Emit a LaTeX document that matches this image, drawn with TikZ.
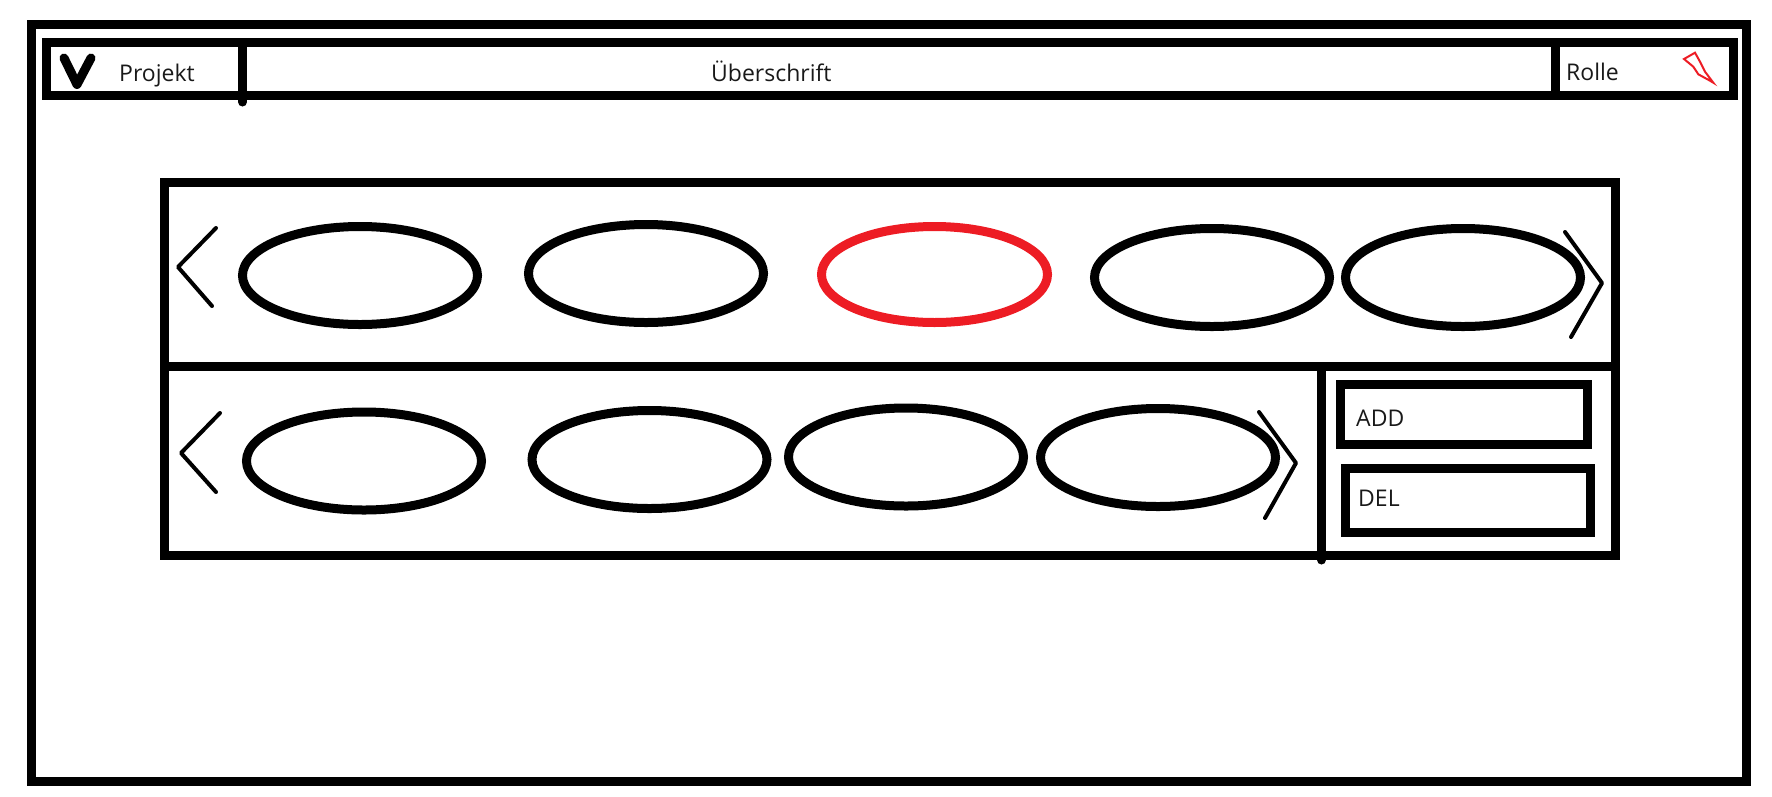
\documentclass[tikz,border=0pt]{standalone}
\usepackage{fontspec}
\setmainfont{Open Sans}
\usetikzlibrary{shapes.geometric}
\tikzset{
	frame/.style={line width=9pt, black},
	oval/.style={draw, ellipse, line width=9pt, inner sep=0pt, minimum width=235pt, minimum height=98pt},
	chevron/.style={line width=4pt, line cap=round, line join=round},
	label/.style={inner sep=0pt, anchor=base west, font=\fontsize{23}{28}\selectfont, text=black!90}
}
\definecolor{penred}{RGB}{237,28,36}
\begin{document}
\begin{tikzpicture}[x=1pt, y=-1pt]
	\useasboundingbox (0,0) rectangle (1772,796);
	% window and header
	\draw[frame] (31.5,24.5) rectangle (1746,781.5);
	\draw[frame] (46.5,42.5) rectangle (1733,95.5);
	\coordinate (h1t) at(242.5,42.5);
	\coordinate (h1b) at(242.5,102);
	\coordinate (h2t) at(1555,42.5);
	\coordinate (h2b) at(1555,95.5);
	\draw[frame, line cap=round] (h1t)--(h1b);
	\draw[frame] (h2t)--(h2b);
	\coordinate (v1) at(64,58);
	\coordinate (v2) at(77,84.5);
	\coordinate (v3) at(91,58);
	\draw[line width=9pt, line cap=round, line join=round] (v1)--(v2)--(v3);
	\node[label] (projekt) at(119,81) {Projekt};
	\node[label] (title) at(711,81) {Überschrift};
	\node[label] (rolle) at(1566,80) {Rolle};
	\coordinate (r1) at(1695,52.7);
	\coordinate (r2) at(1684,59);
	\coordinate (r3) at(1693.3,66.7);
	\coordinate (r4) at(1698.3,74.3);
	\coordinate (r5) at(1710,80.7);
	\coordinate (r6) at(1713.3,82.7);
	\coordinate (r7) at(1705,71.7);
	\coordinate (r8) at(1700,61.7);
	\draw[penred, line width=2pt] (r1)--(r2)--(r3)--(r4)--(r5)--(r6)--(r7)--(r8)--cycle;
	% panel
	\draw[frame] (164.5,182.5) rectangle (1615,555.5);
	\coordinate (ml) at(164.5,366.5);
	\coordinate (mr) at(1615,366.5);
	\coordinate (dt) at(1321.5,366.5);
	\coordinate (db) at(1321.5,560);
	\draw[frame] (ml)--(mr);
	\draw[frame, line cap=round] (dt)--(db);
	% upper row
	\node[oval] (a1) at(360,275.5) {};
	\node[oval] (a2) at(646,273.5) {};
	\node[oval, draw=penred, minimum width=226pt, minimum height=96pt] (a3) at(934.5,274.5) {};
	\node[oval] (a4) at(1212,277.5) {};
	\node[oval] (a5) at(1463,277.5) {};
	\draw[chevron] (216,228)--(178,267)--(212,306);
	\draw[chevron] (1565,232)--(1602,283)--(1571,337);
	% lower row
	\node[oval] (b1) at(364,461) {};
	\node[oval] (b2) at(649.5,459.5) {};
	\node[oval] (b3) at(906,457) {};
	\node[oval] (b4) at(1158,457.5) {};
	\draw[chevron] (220,413)--(181,453)--(216,492);
	\draw[chevron] (1259,412)--(1296,463)--(1265,518);
	% buttons
	\draw[frame] (1340.5,384.5) rectangle (1587.5,444.5);
	\draw[frame] (1345.5,468.5) rectangle (1590,532.5);
	\node[label] (add) at(1356,426) {ADD};
	\node[label] (del) at(1358,506) {DEL};
\end{tikzpicture}
\end{document}
